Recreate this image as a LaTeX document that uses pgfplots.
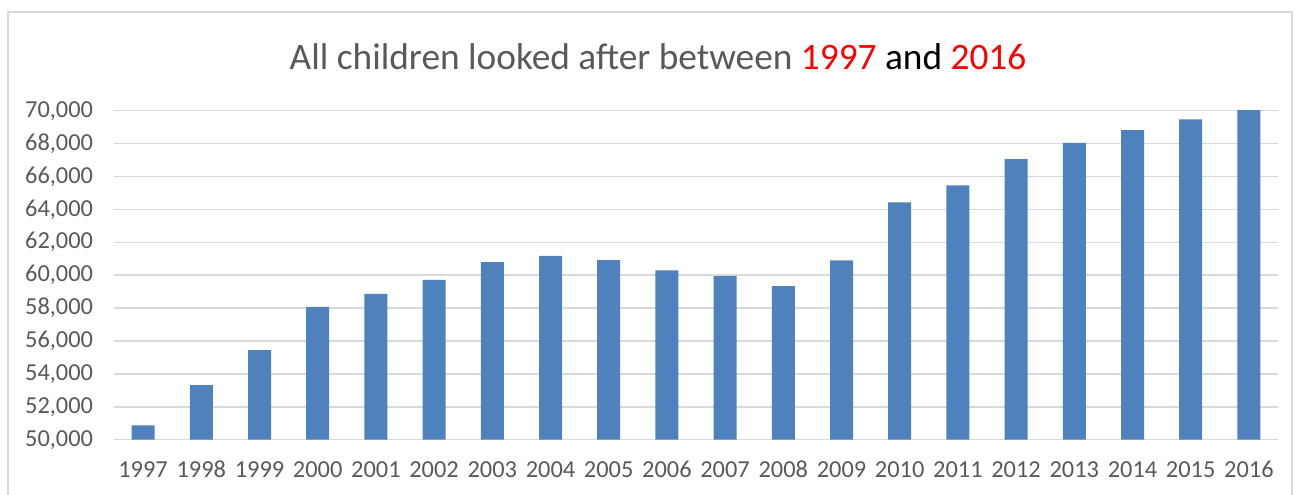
\documentclass[border=0pt]{standalone}
\usepackage{pgfplots}
\pgfplotsset{compat=1.18}
\usepackage{fontspec}
\setmainfont{Carlito}
\definecolor{barblue}{HTML}{4F81BD}
\definecolor{gridgray}{HTML}{D9D9D9}
\definecolor{txtgray}{HTML}{595959}
\begin{document}
\begin{tikzpicture}[x=0.75pt,y=0.75pt]
\useasboundingbox (-114,-55.3) rectangle (1182,439.7);
\draw[gridgray, line width=1.5pt] (-106,-70) -- (-106,427.7) -- (1178,427.7) -- (1178,-70);
\node[anchor=base, text=txtgray, inner sep=0pt, font=\fontsize{28}{32}\selectfont] at (544,369.7)
  {All children looked after between \textcolor{red}{1997} \textcolor{black}{and} \textcolor{red}{2016}};
\begin{axis}[
  at={(0pt,0pt)}, anchor=south west,
  scale only axis,
  width=873pt, height=246.75pt,
  xmin=-0.5, xmax=19.5,
  ymin=50000, ymax=70000,
  ytick={50000,52000,...,70000},
  scaled y ticks=false,
  xtick={0,...,19},
  xticklabels={1997,1998,1999,2000,2001,2002,2003,2004,2005,2006,2007,2008,2009,2010,2011,2012,2013,2014,2015,2016},
  major tick length=0pt,
  axis line style={draw=none},
  ymajorgrids,
  grid style={gridgray, line width=1.1pt},
  /pgf/number format/assume math mode=true,
  /pgf/number format/.cd, fixed, precision=0, 1000 sep={,},
  /pgfplots/.cd,
  tick label style={text=txtgray, font=\fontsize{18.3}{21}\selectfont},
  yticklabel style={anchor=east, inner sep=0pt, xshift=-15.5pt},
  xticklabel style={anchor=base, inner sep=0pt, yshift=-28.5pt},
  ybar, bar width=17.25pt,
  clip=true,
]
\addplot[fill=barblue, draw=none] coordinates {
(0,50870) (1,53320) (2,55450) (3,58080) (4,58860) (5,59710) (6,60800)
(7,61170) (8,60920) (9,60290) (10,59950) (11,59340) (12,60900)
(13,64430) (14,65460) (15,67060) (16,68050) (17,68820) (18,69470) (19,70440)
};
\end{axis}
\end{tikzpicture}
\end{document}
